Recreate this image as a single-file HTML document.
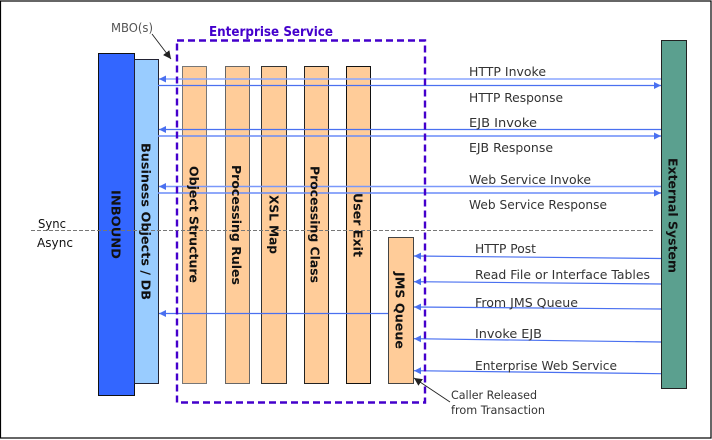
<!DOCTYPE html>
<html><head><meta charset="utf-8">
<style>
html,body{margin:0;padding:0;background:#fff;width:712px;height:440px;overflow:hidden}
svg{display:block}
text{font-family:"DejaVu Sans",sans-serif;font-size:12px;fill:#333}
.b{font-weight:bold;fill:#111;font-size:12.5px}
</style></head>
<body>
<svg width="712" height="440" viewBox="0 0 712 440" xmlns="http://www.w3.org/2000/svg">
<defs>
<marker id="a" markerUnits="userSpaceOnUse" markerWidth="8" markerHeight="8" refX="7" refY="3.5" orient="auto"><path d="M0,0L7,3.5L0,7z" fill="#4a70f0"/></marker>
<marker id="k" markerUnits="userSpaceOnUse" markerWidth="9" markerHeight="9" refX="8" refY="4" orient="auto"><path d="M0,0L8,4L0,8z" fill="#222"/></marker>
</defs>
<rect x="0.5" y="1" width="710.5" height="437" fill="#fff" stroke="#000" stroke-width="1.2"/>

<rect x="98.5" y="53.5" width="36" height="342" fill="#3366ff" stroke="#111"/>
<rect x="134.5" y="59.5" width="24" height="324" fill="#99ccff" stroke="#223"/>
<rect x="182.5" y="66.5" width="24" height="317" fill="#ffcc99" stroke="#777"/>
<rect x="225.5" y="66.5" width="24" height="317" fill="#ffcc99" stroke="#666"/>
<rect x="261.5" y="66.5" width="25" height="317" fill="#ffcc99" stroke="#333"/>
<rect x="304.5" y="66.5" width="24" height="317" fill="#ffcc99" stroke="#222"/>
<rect x="346.5" y="66.5" width="24" height="317" fill="#ffcc99" stroke="#111"/>
<rect x="388.5" y="237.5" width="25" height="146" fill="#ffcc99" stroke="#444"/>
<rect x="661.5" y="40.5" width="25" height="348" fill="#5ba08f" stroke="#222"/>

<g stroke="#4a70f0" stroke-width="1.2" fill="none">
<line x1="661" y1="79" x2="159" y2="79" marker-end="url(#a)" stroke="#8aa6ff" stroke-width="1.6"/>
<line x1="158" y1="85.5" x2="661" y2="85.5" marker-end="url(#a)"/>
<line x1="661" y1="129.5" x2="159" y2="129.5" marker-end="url(#a)"/>
<line x1="158" y1="136" x2="661" y2="136" marker-end="url(#a)" stroke="#6a8cf8" stroke-width="1.4"/>
<line x1="661" y1="186.5" x2="159" y2="186.5" marker-end="url(#a)" stroke="#7a98fa" stroke-width="1.4"/>
<line x1="158" y1="193" x2="661" y2="193" marker-end="url(#a)" stroke="#6a8cf8" stroke-width="1.4"/>
<line x1="661" y1="258.5" x2="414" y2="256" marker-end="url(#a)"/>
<line x1="661" y1="284" x2="414" y2="281.7" marker-end="url(#a)"/>
<line x1="661" y1="309" x2="414" y2="307" marker-end="url(#a)"/>
<line x1="661" y1="342" x2="414" y2="338.7" marker-end="url(#a)"/>
<line x1="661" y1="373.7" x2="414" y2="370.7" marker-end="url(#a)"/>
<line x1="388" y1="313.5" x2="159" y2="313.5" marker-end="url(#a)"/>
</g>

<line x1="31" y1="230.5" x2="654" y2="230.5" stroke="#777" stroke-width="1" stroke-dasharray="4 2"/>
<rect x="177" y="40.5" width="248" height="362" fill="none" stroke="#4400cc" stroke-width="2.4" stroke-dasharray="7 4"/>

<line x1="152" y1="34" x2="171" y2="59" stroke="#222" stroke-width="0.9" marker-end="url(#k)"/>
<line x1="450" y1="402" x2="414" y2="378" stroke="#222" stroke-width="0.9" marker-end="url(#k)"/>

<text x="111" y="32" textLength="42" lengthAdjust="spacingAndGlyphs" style="fill:#555">MBO(s)</text>
<text x="209" y="36" font-weight="bold" textLength="124" lengthAdjust="spacingAndGlyphs" style="font-size:13px;fill:#4400cc">Enterprise Service</text>
<text x="38" y="228" textLength="28" lengthAdjust="spacingAndGlyphs" style="fill:#111">Sync</text>
<text x="37" y="247" textLength="36" lengthAdjust="spacingAndGlyphs" style="fill:#111">Async</text>

<text x="469" y="76" textLength="77" lengthAdjust="spacingAndGlyphs">HTTP Invoke</text>
<text x="469" y="102" textLength="94" lengthAdjust="spacingAndGlyphs">HTTP Response</text>
<text x="469" y="127" textLength="68" lengthAdjust="spacingAndGlyphs">EJB Invoke</text>
<text x="469" y="152" textLength="84" lengthAdjust="spacingAndGlyphs">EJB Response</text>
<text x="469" y="184" textLength="122" lengthAdjust="spacingAndGlyphs">Web Service Invoke</text>
<text x="469" y="209" textLength="138" lengthAdjust="spacingAndGlyphs">Web Service Response</text>
<text x="475" y="253" textLength="61" lengthAdjust="spacingAndGlyphs">HTTP Post</text>
<text x="475" y="279" textLength="175" lengthAdjust="spacingAndGlyphs">Read File or Interface Tables</text>
<text x="475" y="307" textLength="103" lengthAdjust="spacingAndGlyphs">From JMS Queue</text>
<text x="475" y="338" textLength="67" lengthAdjust="spacingAndGlyphs">Invoke EJB</text>
<text x="475" y="370" textLength="142" lengthAdjust="spacingAndGlyphs">Enterprise Web Service</text>
<text x="451" y="399" textLength="86" lengthAdjust="spacingAndGlyphs" style="font-size:11.5px">Caller Released</text>
<text x="451" y="414" textLength="94" lengthAdjust="spacingAndGlyphs" style="font-size:11.5px">from  Transaction</text>

<g>
<text class="b" transform="translate(111.5,190) rotate(90)" textLength="69" lengthAdjust="spacingAndGlyphs">INBOUND</text>
<text class="b" transform="translate(141.5,143) rotate(90)" textLength="157" lengthAdjust="spacingAndGlyphs">Business Objects / DB</text>
<text class="b" transform="translate(189.5,166) rotate(90)" textLength="117" lengthAdjust="spacingAndGlyphs">Object Structure</text>
<text class="b" transform="translate(232,165) rotate(90)" textLength="120" lengthAdjust="spacingAndGlyphs">Processing Rules</text>
<text class="b" transform="translate(269.5,195) rotate(90)" textLength="59" lengthAdjust="spacingAndGlyphs">XSL Map</text>
<text class="b" transform="translate(310.5,166) rotate(90)" textLength="117" lengthAdjust="spacingAndGlyphs">Processing Class</text>
<text class="b" transform="translate(353.5,193) rotate(90)" textLength="64" lengthAdjust="spacingAndGlyphs">User Exit</text>
<text class="b" transform="translate(395.5,272) rotate(90)" textLength="77" lengthAdjust="spacingAndGlyphs">JMS Queue</text>
<text class="b" transform="translate(668.5,158) rotate(90)" textLength="115" lengthAdjust="spacingAndGlyphs">External System</text>
</g>
</svg>
</body></html>
